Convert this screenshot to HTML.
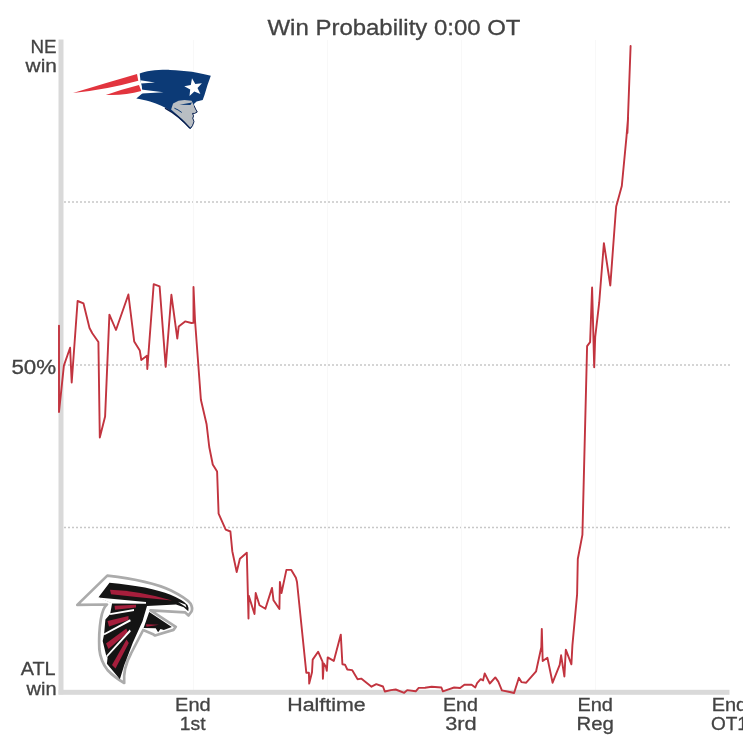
<!DOCTYPE html>
<html><head><meta charset="utf-8">
<style>
html,body{margin:0;padding:0;background:#fff;}
body{width:743px;height:743px;overflow:hidden;}
svg{display:block;will-change:transform;}
text{font-family:"Liberation Sans",sans-serif;fill:#434343;stroke:#434343;stroke-width:0.3px;}
</style></head><body>
<svg width="743" height="743" viewBox="0 0 743 743">
<rect width="743" height="743" fill="#fff"/>
<!-- title -->
<text x="267.5" y="34.6" font-size="22.4" textLength="253" lengthAdjust="spacingAndGlyphs">Win Probability 0:00 OT</text>
<!-- grid -->
<g stroke="#c8c8c8" stroke-width="1.4" stroke-dasharray="2 2">
<line x1="64" y1="202" x2="731" y2="202"/>
<line x1="64" y1="365" x2="731" y2="365"/>
<line x1="64" y1="527.5" x2="731" y2="527.5"/>
</g>
<g stroke="#f8f8f8" stroke-width="1">
<line x1="193.5" y1="40" x2="193.5" y2="690"/>
<line x1="327.5" y1="40" x2="327.5" y2="690"/>
<line x1="461.5" y1="40" x2="461.5" y2="690"/>
<line x1="595.5" y1="40" x2="595.5" y2="690"/>
</g>
<!-- axes -->
<rect x="58.5" y="39.5" width="5" height="655" fill="#d9d9d9"/>
<rect x="58.5" y="689.8" width="671" height="5" fill="#d9d9d9"/>
<!-- y labels -->
<g text-anchor="end">
<text id="NE" x="56.60" y="52.5" font-size="19.2" textLength="26.09" lengthAdjust="spacingAndGlyphs">NE</text>
<text id="win1" x="56.90" y="71.9" font-size="18.4" textLength="31.30" lengthAdjust="spacingAndGlyphs">win</text>
<text id="p50" x="56.20" y="373.6" font-size="19.3" textLength="44.79" lengthAdjust="spacingAndGlyphs">50%</text>
<text id="ATL" x="55.60" y="675.3" font-size="18.6" textLength="34.94" lengthAdjust="spacingAndGlyphs">ATL</text>
<text id="win2" x="56.60" y="694.8" font-size="18.6" textLength="30.04" lengthAdjust="spacingAndGlyphs">win</text>
</g>
<!-- x labels -->
<g text-anchor="middle" font-size="18.8">
<text id="e1" x="192.90" y="711" textLength="35.54" lengthAdjust="spacingAndGlyphs">End</text><text id="st1" x="192.70" y="730.1" textLength="25.85" lengthAdjust="spacingAndGlyphs">1st</text>
<text id="half" x="326.45" y="711" textLength="78.40" lengthAdjust="spacingAndGlyphs">Halftime</text>
<text id="e3" x="460.44" y="711" textLength="34.95" lengthAdjust="spacingAndGlyphs">End</text><text id="rd3" x="460.95" y="730.1" textLength="31.47" lengthAdjust="spacingAndGlyphs">3rd</text>
<text id="er" x="595.15" y="711" textLength="35.55" lengthAdjust="spacingAndGlyphs">End</text><text id="reg" x="595.20" y="730.1" textLength="37.42" lengthAdjust="spacingAndGlyphs">Reg</text>
<text x="729.4" y="711" textLength="35.5" lengthAdjust="spacingAndGlyphs">End</text><text x="729.4" y="730.1" textLength="37" lengthAdjust="spacingAndGlyphs">OT1</text>
</g>
<!-- patriots -->
<g id="pats">
<path fill="#e2343e" d="M73,93 Q105,83.2 137,74 L138.3,80.8 Q106.3,89.8 73,93 Z"/>
<path fill="#e2343e" d="M105.8,94.9 Q122,89.2 139,84.9 L141.3,91 Q124,95.8 105.8,94.9 Z"/>
<path fill="#0c3a76" d="M139.7,73.6 C145,71 158,69.6 170,69.9 C185,70.3 200,72.5 210.8,75.8 L207.5,85 L204.5,95 L202.7,100.1 L196.6,101.4 L193.9,104 L195.3,108.8 L197.2,112 L194.6,113.4 L192.6,113.4 L193.5,115.9 L192.8,118.3 L194,121.6 L192.5,125.7 L190.4,129 C184,123 177,116 171,111.5 C165,107 158,103.8 150,101.5 C145,100 140,98.8 136.3,98.4 L142.5,93.3 L141.8,86 L140.5,81 Z"/>
<path fill="#fff" d="M140.3,80.2 L155,82.5 L141,83.4 Z"/>
<path fill="#fff" d="M141,89.4 L163.5,92.2 L141.8,93.4 Z"/>
<path fill="#b9bec3" d="M173.1,103.5 L178.5,100.8 L184.5,100.1 L191.6,100.8 L193.9,105.5 L195.3,108.8 L197,111.9 L194.6,113.2 L192.3,113.2 L193.3,115.9 L192.6,118.3 L193.9,121.6 L192.3,125.7 L190.2,127.7 L182.5,119.6 L171.1,109.5 Z"/>
<path fill="none" stroke="#0a1f4e" stroke-width="1.4" d="M165,108.2 C172,112 180,117 190,128.4"/>
<path fill="#0c3a76" d="M179.5,104.8 L192,102.6 L190.5,105 Z"/>
<path fill="none" stroke="#0a1f4e" stroke-width="0.9" stroke-linejoin="round" d="M194.2,105.8 L195.6,109 L197.3,112 L194.6,113.4 L192.6,113.4 L193.5,115.9 L192.8,118.3 L194,121.6 L192.5,125.7 L190.4,128.6"/>
<path fill="none" stroke="#0c3a76" stroke-width="1" d="M174.4,108.2 Q178,109.5 181.8,112.5"/>
<path fill="#fff" d="M192.0,78.3 L195.3,84.1 L201.9,83.2 L197.5,88.1 L200.4,94.1 L194.3,91.4 L189.5,96.0 L190.2,89.4 L184.3,86.3 L190.8,84.9 Z"/>
</g>
<!-- falcons -->
<g id="falc">
<path fill="#fff" stroke="#ababab" stroke-width="2.7" stroke-linejoin="round" d="M107.3,575.6 Q150,580.5 171,590.5 Q186,598 190.5,603.5 Q193,608 191.5,611.5 L188.5,615.5 L185,612.3 L150.5,610.3 L175.8,626.8 L173.5,629.9 L155,635.5 L152.5,633.9 L143.2,630 L131,653.5 Q123,668 124.2,683 Q114,677 107.5,670 Q100.5,661 99.3,649 Q98.6,633 100.8,619.5 Q102.8,607.5 107,604.5 L77.3,604.9 Z"/>
<path fill="#141414" d="M109.5,582.8 Q150,586.5 170.5,594.8 Q183,600 187.5,605 Q189.2,608 188.3,611.2 L183.8,607.2 L176,604.6 L147,606 L142.5,621.2 L132.8,642.7 L124.2,665.3 L119.9,679.3 L106.9,663.7 L107.6,657.6 L106.4,656.4 L102.7,641 L104.1,634.2 L105.4,619.5 L110.1,614.2 L112.1,603.3 L98.5,597.2 Z"/>
<path fill="#141414" d="M149.2,612.1 L171.8,627 L163.8,629.9 L160.5,629 L158.1,632.3 L155.7,628.3 L143.6,627.9 Z"/>
<g fill="#a51e3c">
<path d="M110,589.8 Q140,591 172,600.5 Q140,597.5 111,594.2 Z"/>
<path d="M114.5,605.8 L136,604.8 L136,607.4 L115,609.8 Z"/>
<path d="M107.5,621 L128.5,616 L128.5,620 L109,626.5 Z"/>
<path d="M106,643.5 L126.3,628.5 L127.8,632.5 L108.5,649 Z"/>
<path d="M112,665 L126.5,639.5 L128.8,643 L115.5,668.5 Z"/>
<path d="M146,624.2 L159,624.8 L146.5,626.8 Z"/>
</g>
<g fill="#fff">
<path d="M98,597.6 L146,601.9 L146,603.7 L112.1,603.6 Z"/>
<path d="M110,613.3 L134,609 L134,610.9 L110.2,615 Z"/>
<path d="M103.9,633.4 L130,619.2 L130.8,621.2 L104.3,635.2 Z"/>
<path d="M106.2,655.8 L129.8,629.6 L130.8,631.6 L106.6,657.8 Z"/>
<path d="M178,601.8 L185.5,604.5 L186.5,607.6 Z"/>
</g>
</g>
<!-- line -->
<polyline fill="none" stroke="#c2343f" stroke-width="1.9" stroke-linejoin="round" stroke-linecap="round" points="59,325.6 59,412 63.9,365.5 70.1,347.7 71.7,382.5 77.6,301 83.5,303.4 89.5,328 92.3,333.3 98.4,342 99.8,437.5 105.1,416.6 109.4,314.6 116,330 128.4,294.5 134.2,341.4 139.8,350.6 141.3,360 146.9,355.8 147.3,369 153.7,284.2 159.6,286.3 165.7,366.9 171.4,294.8 177.3,338.6 178.7,326.6 185.1,321.4 191.4,323 193.5,322.8 193.5,287 195,320.2 200.9,399.7 206.6,424.3 209.25,447 212.75,464.5 217.1,471.5 218.6,513.6 225.7,529.6 230.4,531.5 232.3,551.2 236.7,572 239.9,558.8 246.8,552.7 248.5,618.5 248.7,595.6 254.5,614 255.7,593 259.5,605.2 265.4,608.8 272,587.9 273.5,600.3 279.4,609 279.9,582 281.5,593 286.4,569.9 291.3,569.9 295.9,577.8 297,582 306.3,672.7 308.9,672.7 309.2,683.6 312,672.2 312.7,659.6 318.1,651.7 322.5,661.7 322.9,678.8 323.8,663.5 326,667 326.8,670.9 327.7,657.4 333.8,660.9 340.8,634.6 342.4,664.3 345,664.7 347.3,669.5 352.1,670.1 357.6,679.2 361.2,678.6 371.5,686.7 376.3,684.1 383,686.5 384.8,691.5 390.9,690.1 395.7,689.5 404.2,692.8 407.2,690.1 415.7,691.3 418.7,687.9 425,687.7 431.7,686.7 441.4,687.5 442.9,691.3 448.6,689.3 454.1,687.5 460.1,688 464.4,684.7 471.6,684.7 475.3,687.5 477.1,683.1 480.7,679.2 483.1,680.4 484.7,673.4 489.8,683.5 495.3,677.4 498.3,681.6 501.9,690.4 509.8,692 514.1,693 518.9,677.8 521.4,682.1 526.2,682.7 536.1,671.3 541.3,647.3 541.8,628.9 542.7,661 547.4,657.7 552.6,682.7 559.7,664.8 561.1,655.3 564.4,676.5 565.8,649.7 571.4,664.3 572.4,645.4 577.1,594.4 577.8,559 582.4,534.9 587.1,346.1 590.1,342.1 592.1,287.5 594.2,367.3 595.2,337 599.2,302.7 603.9,243.1 610.3,285.5 615.5,215 616.2,206.5 621.8,186 626.5,136.7 628.1,117.4 627.4,133 630.6,46"/>
</svg>
</body></html>
